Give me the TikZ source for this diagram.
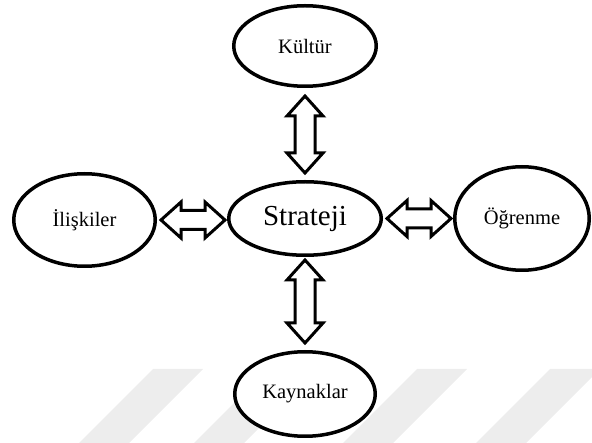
\documentclass[tikz,border=0pt]{standalone}
\usepackage{fontspec}
\setmainfont{Liberation Serif}
\usetikzlibrary{shapes.geometric,calc}

\tikzset{
	konu/.style={ellipse, draw, line width=3.5pt, fill=white, inner sep=0pt, font=\fontsize{20.5}{24}\selectfont},
	blokok/.style={draw, line width=3pt, fill=white, line join=miter},
	filigran/.style={fill=black!7, draw=none},
}

% vertical double block arrow, tip #1 (upper) to tip #2 (lower)
\newcommand{\dikok}[2]{%
	\draw[blokok] let \p1=(#1), \p2=(#2) in
		(\x1,\y1) -- (\x1+18pt,\y1-20pt) -- (\x1+10pt,\y1-20pt) -- (\x1+10pt,\y2+20pt) -- (\x1+18pt,\y2+20pt)
		-- (\x1,\y2) -- (\x1-18pt,\y2+20pt) -- (\x1-10pt,\y2+20pt) -- (\x1-10pt,\y1-20pt) -- (\x1-18pt,\y1-20pt) -- cycle;}
% horizontal double block arrow, tip #1 (left) to tip #2 (right)
\newcommand{\yatayok}[2]{%
	\draw[blokok] let \p1=(#1), \p2=(#2) in
		(\x1,\y1) -- (\x1+20pt,\y1+18pt) -- (\x1+20pt,\y1+9.5pt) -- (\x2-20pt,\y1+9.5pt) -- (\x2-20pt,\y1+18pt)
		-- (\x2,\y1) -- (\x2-20pt,\y1-18pt) -- (\x2-20pt,\y1-9.5pt) -- (\x1+20pt,\y1-9.5pt) -- (\x1+20pt,\y1-18pt) -- cycle;}

\begin{document}
\begin{tikzpicture}[x=1pt,y=-1pt]
	\path[use as bounding box] (0,0) rectangle (592,443);
	
	%Watermark stripes
	\begin{scope}
		\clip (0,0) rectangle (592,443);
		\foreach \a in {153,268,417,550}
			\fill[filigran] (\a,369) -- (\a+50,369) -- (\a-24,443) -- (\a-74,443) -- cycle;
	\end{scope}
	
	%Shape: Ellipse
	\node[konu, minimum width=152.5pt, minimum height=73.5pt, font=\fontsize{29}{34}\selectfont] (strateji) at (305,218.5) {Strateji};
	%Shape: Ellipse
	\node[konu, minimum width=142.5pt, minimum height=80.5pt] (kultur) at (305,46) {Kültür};
	%Shape: Ellipse
	\node[konu, minimum width=141.5pt, minimum height=92.5pt] (iliskiler) at (84.5,220) {İlişkiler};
	%Shape: Ellipse
	\node[konu, minimum width=134.5pt, minimum height=103.5pt] (ogrenme) at (522,218.5) {Öğrenme};
	%Shape: Ellipse
	\node[konu, minimum width=140.5pt, minimum height=84.5pt] (kaynaklar) at (305,394) {Kaynaklar};
	
	%Double Arrows
	\dikok{$(kultur.south)+(0,8)$}{$(strateji.north)+(0,-7)$}
	\dikok{$(strateji.south)+(0,3)$}{$(kaynaklar.north)+(0,-7)$}
	\yatayok{$(iliskiler.east)+(4,0)$}{$(strateji.west)+(-2,0)$}
	\yatayok{$(strateji.east)+(4,0)$}{$(ogrenme.west)+(-2,0)$}
	
\end{tikzpicture}
\end{document}
